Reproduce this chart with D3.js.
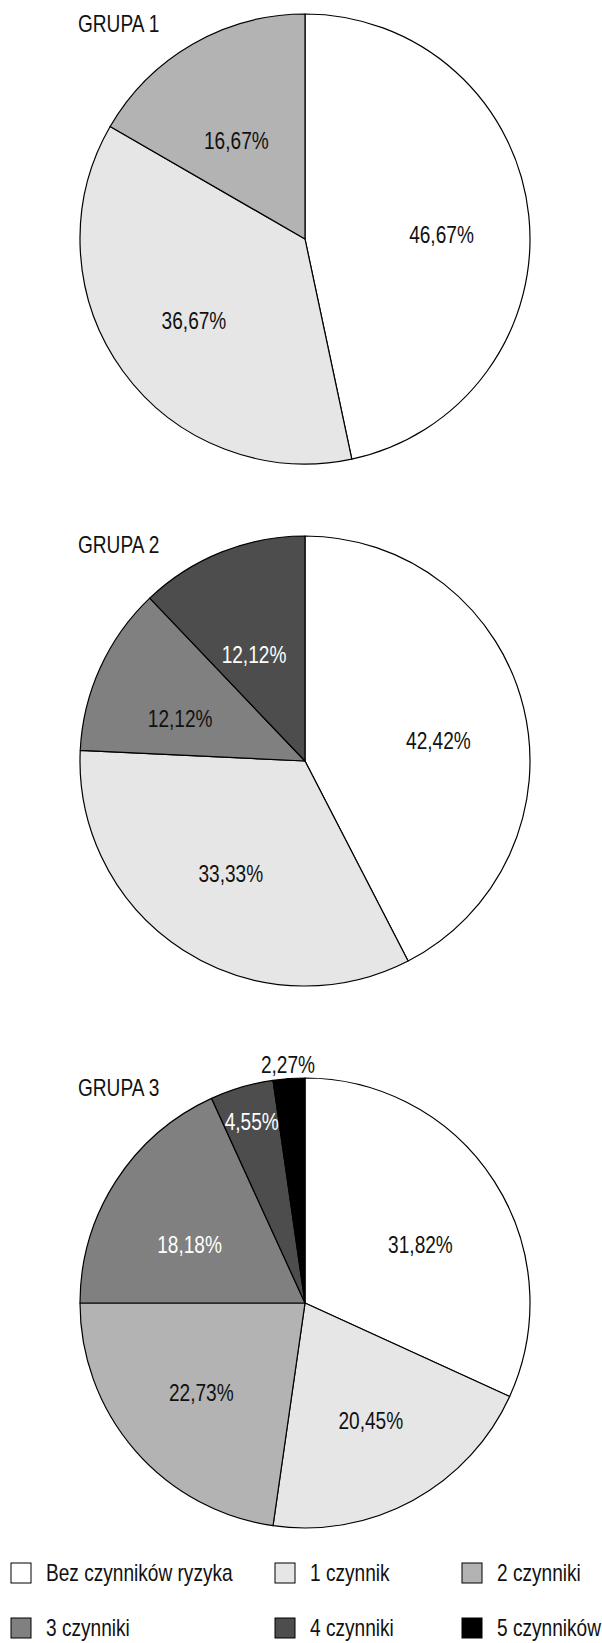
<!DOCTYPE html>
<html>
<head>
<meta charset="utf-8">
<script src="https://cdn.jsdelivr.net/npm/d3@7"></script>
<style>
  body { margin: 0; background: #fff; }
  svg text { font-family: "Liberation Sans", Arial, sans-serif; fill: #111; }
</style>
</head>
<body>
<svg id="chart"></svg>
<script>
// risk factor categories (legend order = slice order)
const categories = ['Bez czynników ryzyka', '1 czynnik', '2 czynniki', '3 czynniki', '4 czynniki', '5 czynników'];
const groupNames = ['GRUPA 1', 'GRUPA 2', 'GRUPA 3'];

// percentage values per group
const grupa1 = [46.67, 36.67, 16.67, 0, 0, 0];
const grupa2 = [42.42, 33.33, 0, 12.12, 12.12, 0];
const grupa3 = [31.82, 20.45, 22.73, 18.18, 4.55, 2.27];
const groupValues = [grupa1, grupa2, grupa3];

const fills = ['#ffffff', '#e6e6e6', '#b3b3b3', '#808080', '#4d4d4d', '#000000'];
// category indexes whose label is drawn in white
const whiteLabels = [[], [4], [3, 4]];

const width = 602, height = 1643;
const radius = 225;
const cx = 305;
const centersY = [239, 761, 1303];
const titleY = [32, 553, 1096];
const narrow = 0.83; // squeeze Liberation Sans into a narrow face
const fontSize = '23px';

const pl = d3.formatLocale({ decimal: ',', thousands: ' ', grouping: [3], currency: ['', ' zł'] });
const fmt = v => pl.format('.2f')(v) + '%';

const svg = d3.select('#chart')
  .attr('width', width)
  .attr('height', height);

svg.append('rect').attr('width', width).attr('height', height).attr('fill', '#fff');

const color = d3.scaleOrdinal().domain(categories).range(fills);

const pie = d3.pie()
  .sort(null)
  .value(d => d.value);

const arc = d3.arc().innerRadius(0).outerRadius(radius);

// label spot: big slices inside, thin ones near the rim, tiny ones outside
function labelPos(d) {
  const v = d.data.value;
  const a = (d.startAngle + d.endAngle) / 2;
  let rx, ry, shift;
  if (v < 3) { rx = ry = radius + 14; shift = 0; }
  else if (v < 10) { rx = ry = radius * 0.84; shift = 0; }
  else { rx = radius * 0.61; ry = radius * 0.55; shift = 9; }
  return [Math.sin(a) * rx, -Math.cos(a) * ry + shift];
}

groupValues.forEach((vals, gi) => {
  const data = vals.map((v, i) => ({ cat: categories[i], idx: i, value: v }))
    .filter(d => d.value > 0);

  const g = svg.append('g')
    .attr('transform', `translate(${cx},${centersY[gi]})`);

  g.selectAll('path')
    .data(pie(data))
    .enter()
    .append('path')
    .attr('d', arc)
    .attr('fill', d => color(d.data.cat))
    .attr('stroke', '#000')
    .attr('stroke-width', 1.2)
    .attr('stroke-linejoin', 'round');

  g.selectAll('text.lbl')
    .data(pie(data))
    .enter()
    .append('text')
    .attr('class', 'lbl')
    .attr('transform', d => {
      const p = labelPos(d);
      return `translate(${p[0]},${p[1]}) scale(${narrow},1)`;
    })
    .attr('text-anchor', 'middle')
    .attr('dy', '0.35em')
    .style('font-size', fontSize)
    .style('fill', d => whiteLabels[gi].includes(d.data.idx) ? '#fff' : '#111')
    .text(d => fmt(d.data.value));

  svg.append('text')
    .attr('transform', `translate(78,${titleY[gi]}) scale(${narrow},1)`)
    .style('font-size', fontSize)
    .text(groupNames[gi]);
});

// legend
const legendX = [11, 275, 462];
const legendY = [1563, 1618];
const legend = svg.append('g');
categories.forEach((cat, i) => {
  const x = legendX[i % 3], y = legendY[Math.floor(i / 3)];
  legend.append('rect')
    .attr('x', x)
    .attr('y', y)
    .attr('width', 20)
    .attr('height', 20)
    .attr('fill', color(cat))
    .attr('stroke', '#000')
    .attr('stroke-width', 1);
  legend.append('text')
    .attr('transform', `translate(${x + 35},${y + 18}) scale(${narrow},1)`)
    .style('font-size', fontSize)
    .text(cat);
});
</script>
</body>
</html>
